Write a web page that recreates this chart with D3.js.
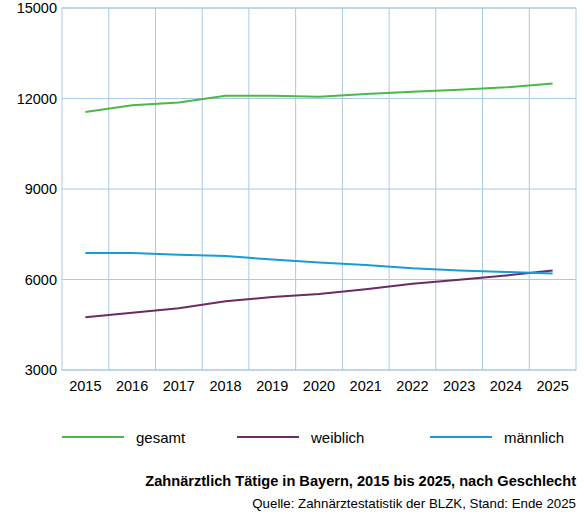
<!DOCTYPE html>
<html><head><meta charset="utf-8">
<script src="https://cdn.jsdelivr.net/npm/d3@7"></script>
<style>body{margin:0;background:#fff}svg{font-family:"Liberation Sans",Arial,sans-serif}</style>
</head><body><svg id="c" width="584" height="516"></svg>
<script>
var years = [2015,2016,2017,2018,2019,2020,2021,2022,2023,2024,2025];
var gesamt = [11550,11780,11870,12090,12090,12060,12150,12220,12290,12370,12500];
var weiblich = [4750,4900,5050,5280,5420,5520,5680,5860,5990,6130,6300];
var maennlich = [6880,6880,6820,6780,6660,6560,6480,6370,6300,6250,6200];
var yTicks = [3000,6000,9000,12000,15000];
var series = [
  {name:"gesamt", values:gesamt, color:"#4cb848"},
  {name:"weiblich", values:weiblich, color:"#6e2a62"},
  {name:"männlich", values:maennlich, color:"#1a9ad6"}
];

var svg = d3.select("#c");
var L=62, R=576, T=8, B=370;
var x = d3.scaleBand().domain(years).range([L,R]);
var y = d3.scaleLinear().domain([3000,15000]).range([B,T]);
var grid = "#a9c9e6";

// grid
svg.selectAll(".v").data(years.slice(1)).enter().append("line")
  .attr("x1",d=>x(d)).attr("x2",d=>x(d)).attr("y1",T).attr("y2",B)
  .attr("stroke",grid).attr("stroke-width",1);
svg.selectAll(".h").data(yTicks).enter().append("line")
  .attr("x1",L).attr("x2",R).attr("y1",d=>y(d)).attr("y2",d=>y(d))
  .attr("stroke",grid).attr("stroke-width",1);
svg.append("rect").attr("x",L).attr("y",T).attr("width",R-L).attr("height",B-T)
  .attr("fill","none").attr("stroke",grid);

// labels
svg.selectAll(".yl").data(yTicks).enter().append("text")
  .attr("x",L-5).attr("y",d=>y(d)+5).attr("text-anchor","end")
  .attr("font-size",14.5).text(d=>d);
svg.selectAll(".xl").data(years).enter().append("text")
  .attr("x",d=>x(d)+x.bandwidth()/2).attr("y",B+21).attr("text-anchor","middle")
  .attr("font-size",14.5).text(d=>d);

var line = d3.line().x((d,i)=>x(years[i])+x.bandwidth()/2).y(d=>y(d));
series.forEach(function(s){
  svg.append("path").attr("d",line(s.values)).attr("fill","none")
    .attr("stroke",s.color).attr("stroke-width",2);
});

// legend
var lx = [62,237,430];
series.forEach(function(s,i){
  svg.append("line").attr("x1",lx[i]).attr("x2",lx[i]+62).attr("y1",437).attr("y2",437)
    .attr("stroke",s.color).attr("stroke-width",2);
  svg.append("text").attr("x",lx[i]+74).attr("y",443).attr("font-size",15).text(s.name);
});

svg.append("text").attr("x",576).attr("y",486).attr("text-anchor","end")
  .attr("font-size",14.6).attr("font-weight","bold")
  .text("Zahnärztlich Tätige in Bayern, 2015 bis 2025, nach Geschlecht");
svg.append("text").attr("x",576).attr("y",508).attr("text-anchor","end")
  .attr("font-size",13.3)
  .text("Quelle: Zahnärztestatistik der BLZK, Stand: Ende 2025");
</script></body></html>
